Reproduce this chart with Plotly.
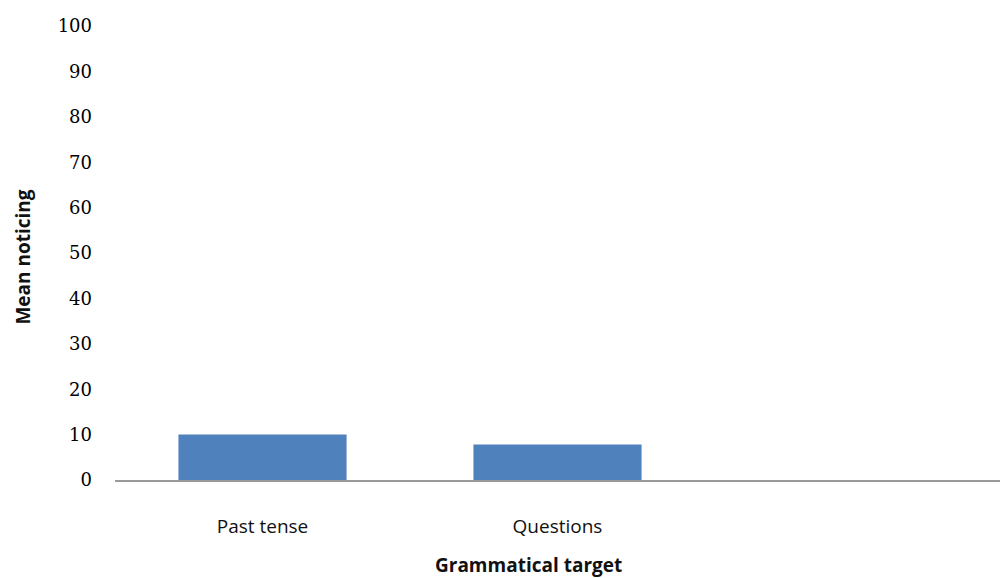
import plotly.graph_objects as go

categories = ["Past tense", "Questions", " "]
mean_noticing = [10, 7.8, None]
y_ticks = [0, 10, 20, 30, 40, 50, 60, 70, 80, 90, 100]

fig = go.Figure()
fig.add_trace(go.Bar(
    x=categories,
    y=mean_noticing,
    marker=dict(color="#4f81bd", line=dict(width=0)),
    width=0.57,
))

fig.update_layout(
    width=1003, height=578,
    margin=dict(l=115, r=3, t=26, b=98),
    paper_bgcolor="white", plot_bgcolor="white",
    showlegend=False,
    xaxis=dict(
        type="category",
        categoryorder="array", categoryarray=categories,
        range=[-0.5, 2.5],
        showline=True, linecolor="#9a9a9a", linewidth=2,
        showgrid=False, ticks="",
        ticklabelstandoff=28,
        tickfont=dict(family="Open Sans", size=19, color="#111"),
    ),
    yaxis=dict(
        range=[0, 100],
        tickvals=y_ticks,
        showline=False, showgrid=False, zeroline=False, ticks="",
        ticklabelstandoff=22,
        tickfont=dict(family="DejaVu Serif", size=18, color="#000"),
    ),
    annotations=[
        dict(text="<b>Mean noticing</b>", textangle=-90,
             xref="paper", yref="paper", x=-0.105, y=0.49,
             xanchor="center", yanchor="middle", showarrow=False,
             font=dict(family="Open Sans", size=19, color="#111")),
        dict(text="<b>Grammatical target</b>",
             xref="paper", yref="paper", x=0.467, y=-0.188,
             xanchor="center", yanchor="middle", showarrow=False,
             font=dict(family="Open Sans", size=19, color="#111")),
    ],
)

fig.write_html("out.html")
